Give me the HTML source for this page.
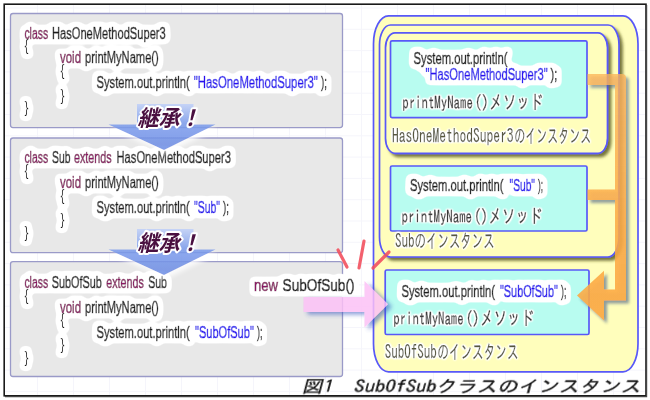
<!DOCTYPE html>
<html lang="ja">
<head>
<meta charset="utf-8">
<title>図1 SubOfSubクラスのインスタンス</title>
<style>
html,body{margin:0;padding:0;background:#fff;}
body{width:650px;height:400px;overflow:hidden;}
svg{display:block;}
.code{font-family:"Liberation Sans",sans-serif;}
.goth{font-family:"IPAGothic","Noto Sans CJK JP",sans-serif;}
.gothc{font-family:"IPAGothic","Noto Sans CJK JP",sans-serif;}
.inh{font-family:"Liberation Sans","Noto Sans CJK JP",sans-serif;font-weight:700;paint-order:stroke;stroke:#fff;stroke-width:4px;stroke-linejoin:round;}
.cap{font-family:"IPAGothic","Noto Sans CJK JP",sans-serif;}
</style>
</head>
<body>
<svg width="650" height="400" viewBox="0 0 650 400">
<defs>
<filter id="sh" x="-10%" y="-10%" width="125%" height="125%"><feDropShadow dx="3" dy="3" stdDeviation="1.8" flood-color="#4a4a10" flood-opacity="0.75"/></filter>
<filter id="sh2" x="-20%" y="-20%" width="150%" height="150%"><feDropShadow dx="3" dy="3" stdDeviation="1.8" flood-color="#4a6088" flood-opacity="0.7"/></filter>
<filter id="sh3" x="-20%" y="-20%" width="150%" height="150%"><feDropShadow dx="2" dy="3" stdDeviation="2" flood-color="#3040a0" flood-opacity="0.5"/></filter>
<filter id="psh" x="-20%" y="-20%" width="150%" height="150%"><feDropShadow dx="4" dy="2.5" stdDeviation="2" flood-color="#3858c0" flood-opacity="0.7"/></filter>
<filter id="wsh" x="-20%" y="-20%" width="150%" height="160%"><feDropShadow dx="2" dy="4" stdDeviation="2.5" flood-color="#ffffff" flood-opacity="0.95"/></filter>
<filter id="halo" filterUnits="userSpaceOnUse" x="0" y="0" width="650" height="400"><feMorphology in="SourceAlpha" operator="dilate" radius="3" result="d"/><feGaussianBlur in="d" stdDeviation="2.2" result="b"/><feComponentTransfer in="b" result="t"><feFuncA type="linear" slope="8" intercept="-0.8"/></feComponentTransfer><feFlood flood-color="#fff"/><feComposite in2="t" operator="in" result="h"/><feMerge><feMergeNode in="h"/><feMergeNode in="SourceGraphic"/></feMerge></filter>
<filter id="halo2" filterUnits="userSpaceOnUse" x="0" y="0" width="650" height="400"><feGaussianBlur in="SourceAlpha" stdDeviation="1.5" result="b"/><feComponentTransfer in="b" result="t"><feFuncA type="linear" slope="5" intercept="-0.1"/></feComponentTransfer><feFlood flood-color="#fff"/><feComposite in2="t" operator="in" result="h"/><feMerge><feMergeNode in="h"/><feMergeNode in="SourceGraphic"/></feMerge></filter>
<linearGradient id="og" gradientUnits="userSpaceOnUse" x1="0" y1="74" x2="0" y2="320"><stop offset="0" stop-color="#fcb458" stop-opacity="0.84"/><stop offset="0.6" stop-color="#fcaa44" stop-opacity="0.93"/><stop offset="1" stop-color="#fca840" stop-opacity="0.97"/></linearGradient>
<linearGradient id="bg" x1="0" y1="0" x2="0" y2="1"><stop offset="0" stop-color="#c0d0f8"/><stop offset="0.42" stop-color="#7c9cec"/><stop offset="1" stop-color="#6c8ce4"/></linearGradient>
</defs>
<rect x="0" y="0" width="650" height="400" fill="#fff"/>

<path d="M37.5 5V395 M73.5 5V395 M109.5 5V395 M145.5 5V395 M181.5 5V395 M217.5 5V395 M253.5 5V395 M289.5 5V395 M325.5 5V395 M361.5 5V395 M397.5 5V395 M433.5 5V395 M469.5 5V395 M505.5 5V395 M541.5 5V395 M577.5 5V395 M613.5 5V395 M5 8.0H645 M5 29.3H645 M5 50.6H645 M5 71.9H645 M5 93.2H645 M5 114.5H645 M5 135.8H645 M5 157.1H645 M5 178.4H645 M5 199.7H645 M5 221.0H645 M5 242.3H645 M5 263.6H645 M5 284.9H645 M5 306.2H645 M5 327.5H645 M5 348.8H645 M5 370.1H645 M5 391.4H645" stroke="#f5f5fb" stroke-width="1" fill="none"/>
<rect x="4.2" y="4.2" width="641.8" height="391.6" fill="none" stroke="#1a1a1a" stroke-width="1.6"/>
<path d="M646.6 5V396.6H5" fill="none" stroke="#444" stroke-width="1.2"/>
<rect x="10.5" y="13.5" width="332" height="114.1" rx="2.5" fill="#e8e8e8" stroke="#9a9ac8" stroke-width="1.3"/>
<rect x="10.5" y="138" width="332" height="114.7" rx="2.5" fill="#e8e8e8" stroke="#9a9ac8" stroke-width="1.3"/>
<rect x="10.5" y="261.6" width="332" height="114.9" rx="2.5" fill="#e8e8e8" stroke="#9a9ac8" stroke-width="1.3"/>
<g filter="url(#halo)">
<text class="code" x="24.4" y="38.6" font-size="16" fill="#8a1565" stroke="#8a1565" stroke-width="0.7" textLength="23.8" lengthAdjust="spacingAndGlyphs">class</text>
<text class="code" x="52.0" y="38.6" font-size="16" fill="#1c1c1c" stroke="#1c1c1c" stroke-width="0.7" textLength="113.7" lengthAdjust="spacingAndGlyphs">HasOneMethodSuper3</text>
<text class="code" x="24.6" y="51.0" font-size="16" fill="#1c1c1c" transform="translate(24.6 0) scale(0.75 1) translate(-24.6 0)">{</text>
<text class="code" x="60.0" y="63.4" font-size="16" fill="#8a1565" stroke="#8a1565" stroke-width="0.7" textLength="21.0" lengthAdjust="spacingAndGlyphs">void</text>
<text class="code" x="85.0" y="63.4" font-size="16" fill="#1c1c1c" stroke="#1c1c1c" stroke-width="0.7" textLength="73.8" lengthAdjust="spacingAndGlyphs">printMyName()</text>
<text class="code" x="60.6" y="75.8" font-size="16" fill="#1c1c1c" transform="translate(60.6 0) scale(0.75 1) translate(-60.6 0)">{</text>
<text class="code" x="96.5" y="88.2" font-size="16" fill="#1c1c1c" stroke="#1c1c1c" stroke-width="0.7" textLength="93.3" lengthAdjust="spacingAndGlyphs">System.out.println(</text>
<text class="code" x="193.8" y="88.2" font-size="16" fill="#2a12f0" stroke="#2a12f0" stroke-width="0.7" textLength="124.0" lengthAdjust="spacingAndGlyphs">&quot;HasOneMethodSuper3&quot;</text>
<text class="code" x="321.0" y="88.2" font-size="16" fill="#1c1c1c" stroke="#1c1c1c" stroke-width="0.7" textLength="6.0" lengthAdjust="spacingAndGlyphs">);</text>
<text class="code" x="60.6" y="100.6" font-size="16" fill="#1c1c1c" transform="translate(60.6 0) scale(0.75 1) translate(-60.6 0)">}</text>
<text class="code" x="24.6" y="113.0" font-size="16" fill="#1c1c1c" transform="translate(24.6 0) scale(0.75 1) translate(-24.6 0)">}</text>
<text class="code" x="24.4" y="163.4" font-size="16" fill="#8a1565" stroke="#8a1565" stroke-width="0.7" textLength="23.8" lengthAdjust="spacingAndGlyphs">class</text>
<text class="code" x="52.0" y="163.4" font-size="16" fill="#1c1c1c" stroke="#1c1c1c" stroke-width="0.7" textLength="18.4" lengthAdjust="spacingAndGlyphs">Sub</text>
<text class="code" x="74.0" y="163.4" font-size="16" fill="#8a1565" stroke="#8a1565" stroke-width="0.7" textLength="37.7" lengthAdjust="spacingAndGlyphs">extends</text>
<text class="code" x="116.5" y="163.4" font-size="16" fill="#1c1c1c" stroke="#1c1c1c" stroke-width="0.7" textLength="114.5" lengthAdjust="spacingAndGlyphs">HasOneMethodSuper3</text>
<text class="code" x="24.6" y="175.8" font-size="16" fill="#1c1c1c" transform="translate(24.6 0) scale(0.75 1) translate(-24.6 0)">{</text>
<text class="code" x="60.0" y="188.2" font-size="16" fill="#8a1565" stroke="#8a1565" stroke-width="0.7" textLength="21.0" lengthAdjust="spacingAndGlyphs">void</text>
<text class="code" x="85.0" y="188.2" font-size="16" fill="#1c1c1c" stroke="#1c1c1c" stroke-width="0.7" textLength="73.8" lengthAdjust="spacingAndGlyphs">printMyName()</text>
<text class="code" x="60.6" y="200.6" font-size="16" fill="#1c1c1c" transform="translate(60.6 0) scale(0.75 1) translate(-60.6 0)">{</text>
<text class="code" x="96.5" y="213.0" font-size="16" fill="#1c1c1c" stroke="#1c1c1c" stroke-width="0.7" textLength="93.3" lengthAdjust="spacingAndGlyphs">System.out.println(</text>
<text class="code" x="194.0" y="213.0" font-size="16" fill="#2a12f0" stroke="#2a12f0" stroke-width="0.7" textLength="26.0" lengthAdjust="spacingAndGlyphs">&quot;Sub&quot;</text>
<text class="code" x="223.0" y="213.0" font-size="16" fill="#1c1c1c" stroke="#1c1c1c" stroke-width="0.7" textLength="6.0" lengthAdjust="spacingAndGlyphs">);</text>
<text class="code" x="60.6" y="225.4" font-size="16" fill="#1c1c1c" transform="translate(60.6 0) scale(0.75 1) translate(-60.6 0)">}</text>
<text class="code" x="24.6" y="237.8" font-size="16" fill="#1c1c1c" transform="translate(24.6 0) scale(0.75 1) translate(-24.6 0)">}</text>
<text class="code" x="24.4" y="288.3" font-size="16" fill="#8a1565" stroke="#8a1565" stroke-width="0.7" textLength="23.8" lengthAdjust="spacingAndGlyphs">class</text>
<text class="code" x="51.8" y="288.3" font-size="16" fill="#1c1c1c" stroke="#1c1c1c" stroke-width="0.7" textLength="50.0" lengthAdjust="spacingAndGlyphs">SubOfSub</text>
<text class="code" x="106.2" y="288.3" font-size="16" fill="#8a1565" stroke="#8a1565" stroke-width="0.7" textLength="37.6" lengthAdjust="spacingAndGlyphs">extends</text>
<text class="code" x="148.2" y="288.3" font-size="16" fill="#1c1c1c" stroke="#1c1c1c" stroke-width="0.7" textLength="18.8" lengthAdjust="spacingAndGlyphs">Sub</text>
<text class="code" x="24.6" y="300.7" font-size="16" fill="#1c1c1c" transform="translate(24.6 0) scale(0.75 1) translate(-24.6 0)">{</text>
<text class="code" x="60.0" y="313.1" font-size="16" fill="#8a1565" stroke="#8a1565" stroke-width="0.7" textLength="21.0" lengthAdjust="spacingAndGlyphs">void</text>
<text class="code" x="85.0" y="313.1" font-size="16" fill="#1c1c1c" stroke="#1c1c1c" stroke-width="0.7" textLength="73.8" lengthAdjust="spacingAndGlyphs">printMyName()</text>
<text class="code" x="60.6" y="325.5" font-size="16" fill="#1c1c1c" transform="translate(60.6 0) scale(0.75 1) translate(-60.6 0)">{</text>
<text class="code" x="96.5" y="337.9" font-size="16" fill="#1c1c1c" stroke="#1c1c1c" stroke-width="0.7" textLength="93.3" lengthAdjust="spacingAndGlyphs">System.out.println(</text>
<text class="code" x="195.0" y="337.9" font-size="16" fill="#2a12f0" stroke="#2a12f0" stroke-width="0.7" textLength="58.8" lengthAdjust="spacingAndGlyphs">&quot;SubOfSub&quot;</text>
<text class="code" x="257.0" y="337.9" font-size="16" fill="#1c1c1c" stroke="#1c1c1c" stroke-width="0.7" textLength="5.5" lengthAdjust="spacingAndGlyphs">);</text>
<text class="code" x="60.6" y="350.3" font-size="16" fill="#1c1c1c" transform="translate(60.6 0) scale(0.75 1) translate(-60.6 0)">}</text>
<text class="code" x="24.6" y="362.7" font-size="16" fill="#1c1c1c" transform="translate(24.6 0) scale(0.75 1) translate(-24.6 0)">}</text>
</g>
<g filter="url(#wsh)" opacity="0.86"><path d="M137 104H193.5V124.5H215.5L164 150L108.5 124.5H137Z" fill="url(#bg)"/></g>
<g filter="url(#wsh)" opacity="0.86"><path d="M137 229H193.5V249.5H215.5L164 275L108.5 249.5H137Z" fill="url(#bg)"/></g>
<text class="inh" x="137.5" y="126.5" font-size="22.5" fill="#4a1040" transform="translate(137.5 126.5) skewX(-14) translate(-137.5 -126.5)" textLength="63" lengthAdjust="spacingAndGlyphs">継承！</text>
<text class="inh" x="137.5" y="251.5" font-size="22.5" fill="#4a1040" transform="translate(137.5 251.5) skewX(-14) translate(-137.5 -251.5)" textLength="63" lengthAdjust="spacingAndGlyphs">継承！</text>
<g filter="url(#halo)">
<text class="code" x="254.0" y="290.8" font-size="16" fill="#8a1565" stroke="#8a1565" stroke-width="0.7" textLength="24.0" lengthAdjust="spacingAndGlyphs">new</text>
<text class="code" x="282.6" y="290.8" font-size="16" fill="#1c1c1c" stroke="#1c1c1c" stroke-width="0.7" textLength="71.9" lengthAdjust="spacingAndGlyphs">SubOfSub()</text>
</g>
<rect x="373.5" y="15.8" width="264.5" height="356" rx="15" ry="28" fill="#fffebc" stroke="#5858f8" stroke-width="1.7"/>
<g filter="url(#sh)"><rect x="379.5" y="25" width="239.5" height="232" rx="11" ry="20" fill="#fffebc" stroke="#5858f8" stroke-width="1.7"/></g>
<g filter="url(#sh)"><rect x="385.5" y="32.8" width="222" height="120.5" rx="9.5" ry="15" fill="#fffebc" stroke="#5858f8" stroke-width="1.7"/></g>
<rect x="390.5" y="40.8" width="196.5" height="76.8" rx="1.5" fill="#b8fcf0" stroke="#5858f8" stroke-width="1.7"/>
<rect x="390.5" y="166" width="196.5" height="65.0" rx="1.5" fill="#b8fcf0" stroke="#5858f8" stroke-width="1.7"/>
<rect x="385.2" y="270" width="203.8" height="64.5" rx="1.5" fill="#b8fcf0" stroke="#5858f8" stroke-width="1.7"/>
<g filter="url(#psh)" opacity="0.84"><path d="M303.5 297H364.5V281L388 304.3L364.5 327.5V312H303.5Z" fill="#fcc0f6"/></g>
<path d="M338 250L347 267M364 241L359 268M389 252L373 268" stroke="#f2505e" stroke-opacity="0.9" stroke-width="3.2" stroke-linecap="round" fill="none"/>
<g filter="url(#halo)">
<text class="code" x="413.5" y="64.4" font-size="16" fill="#1c1c1c" stroke="#1c1c1c" stroke-width="0.7" textLength="93.9" lengthAdjust="spacingAndGlyphs">System.out.println(</text>
<text class="code" x="425.5" y="80.1" font-size="16" fill="#2a12f0" stroke="#2a12f0" stroke-width="0.7" textLength="122.1" lengthAdjust="spacingAndGlyphs">&quot;HasOneMethodSuper3&quot;</text>
<text class="code" x="550.6" y="80.1" font-size="16" fill="#1c1c1c" stroke="#1c1c1c" stroke-width="0.7" textLength="6.6" lengthAdjust="spacingAndGlyphs">);</text>
<text class="code" x="410.0" y="191.2" font-size="16" fill="#1c1c1c" stroke="#1c1c1c" stroke-width="0.7" textLength="93.5" lengthAdjust="spacingAndGlyphs">System.out.println(</text>
<text class="code" x="509.5" y="191.2" font-size="16" fill="#2a12f0" stroke="#2a12f0" stroke-width="0.7" textLength="25.5" lengthAdjust="spacingAndGlyphs">&quot;Sub&quot;</text>
<text class="code" x="538.0" y="191.2" font-size="16" fill="#1c1c1c" stroke="#1c1c1c" stroke-width="0.7" textLength="5.0" lengthAdjust="spacingAndGlyphs">);</text>
<text class="code" x="401.4" y="297.3" font-size="16" fill="#1c1c1c" stroke="#1c1c1c" stroke-width="0.7" textLength="93.6" lengthAdjust="spacingAndGlyphs">System.out.println(</text>
<text class="code" x="500.0" y="297.3" font-size="16" fill="#2a12f0" stroke="#2a12f0" stroke-width="0.7" textLength="57.8" lengthAdjust="spacingAndGlyphs">&quot;SubOfSub&quot;</text>
<text class="code" x="561.0" y="297.3" font-size="16" fill="#1c1c1c" stroke="#1c1c1c" stroke-width="0.7" textLength="5.3" lengthAdjust="spacingAndGlyphs">);</text>
</g>
<g filter="url(#halo2)">
<text class="gothc" x="402.3" y="109.0" font-size="17.5" fill="#3c3c3c" stroke="#3c3c3c" stroke-width="0.4" textLength="70.5" lengthAdjust="spacingAndGlyphs">printMyName</text>
<text class="gothc" x="474.8" y="109.0" font-size="17.5" fill="#3c3c3c" stroke="#3c3c3c" stroke-width="0.4" textLength="13.8" lengthAdjust="spacingAndGlyphs">()</text>
<text class="gothc" x="489.1" y="109.3" font-size="19.5" fill="#3c3c3c" stroke="#3c3c3c" stroke-width="0.4" textLength="54.2" lengthAdjust="spacingAndGlyphs">メソッド</text>
<text class="gothc" x="401.5" y="222.5" font-size="17.5" fill="#3c3c3c" stroke="#3c3c3c" stroke-width="0.4" textLength="70.5" lengthAdjust="spacingAndGlyphs">printMyName</text>
<text class="gothc" x="474.0" y="222.5" font-size="17.5" fill="#3c3c3c" stroke="#3c3c3c" stroke-width="0.4" textLength="13.8" lengthAdjust="spacingAndGlyphs">()</text>
<text class="gothc" x="488.3" y="222.8" font-size="19.5" fill="#3c3c3c" stroke="#3c3c3c" stroke-width="0.4" textLength="54.2" lengthAdjust="spacingAndGlyphs">メソッド</text>
<text class="gothc" x="393.2" y="325.0" font-size="17.5" fill="#3c3c3c" stroke="#3c3c3c" stroke-width="0.4" textLength="70.5" lengthAdjust="spacingAndGlyphs">printMyName</text>
<text class="gothc" x="465.7" y="325.0" font-size="17.5" fill="#3c3c3c" stroke="#3c3c3c" stroke-width="0.4" textLength="13.8" lengthAdjust="spacingAndGlyphs">()</text>
<text class="gothc" x="480.0" y="325.3" font-size="19.5" fill="#3c3c3c" stroke="#3c3c3c" stroke-width="0.4" textLength="54.2" lengthAdjust="spacingAndGlyphs">メソッド</text>
<text class="goth" x="392.0" y="143.0" font-size="19.5" fill="#58583e" stroke="#58583e" stroke-width="0.25" textLength="121.5" lengthAdjust="spacingAndGlyphs">HasOneMethodSuper3</text>
<text class="goth" x="514.2" y="143.0" font-size="19.5" fill="#58583e" stroke="#58583e" stroke-width="0.25" textLength="77.0" lengthAdjust="spacingAndGlyphs">のインスタンス</text>
<text class="goth" x="395.0" y="247.6" font-size="19.5" fill="#58583e" stroke="#58583e" stroke-width="0.25" textLength="19.6" lengthAdjust="spacingAndGlyphs">Sub</text>
<text class="goth" x="414.6" y="247.6" font-size="19.5" fill="#58583e" stroke="#58583e" stroke-width="0.25" textLength="80.0" lengthAdjust="spacingAndGlyphs">のインスタンス</text>
<text class="goth" x="384.8" y="359.2" font-size="19.5" fill="#58583e" stroke="#58583e" stroke-width="0.25" textLength="52.0" lengthAdjust="spacingAndGlyphs">SubOfSub</text>
<text class="goth" x="437.2" y="359.2" font-size="19.5" fill="#58583e" stroke="#58583e" stroke-width="0.25" textLength="81.3" lengthAdjust="spacingAndGlyphs">のインスタンス</text>
</g>
<g filter="url(#sh2)" opacity="0.92"><path d="M587.5 74H622Q626 74 626 78V300.6H604V320.5L577 295.5L604 270.8V289.4H615V200H587.5V189.4H615V85H587.5Z" fill="url(#og)"/></g>
<text class="cap" transform="translate(301.8 392) skewX(-15)" x="0" y="0" font-size="17" fill="#111" stroke="#111" stroke-width="0.3" textLength="339" lengthAdjust="spacingAndGlyphs">図1　SubOfSubクラスのインスタンス</text>
</svg>
</body>
</html>
